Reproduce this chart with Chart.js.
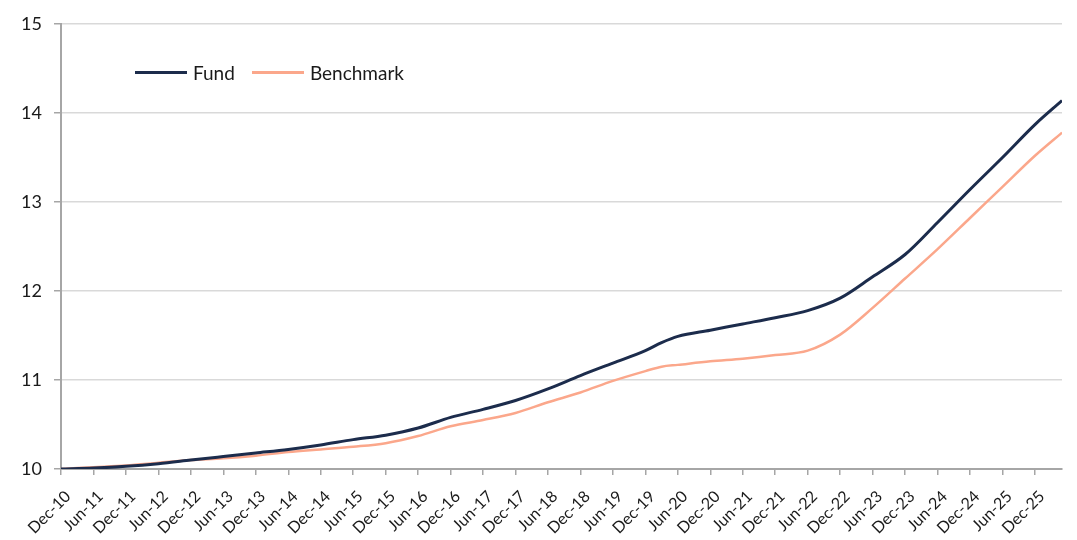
<!DOCTYPE html>
<html>
<head>
<meta charset="utf-8">
<script src="https://cdn.jsdelivr.net/npm/chart.js@4"></script>
<style>
  html, body { margin:0; padding:0; background:#fff; }
  #wrap { position:relative; width:1077px; height:540px; }
  #legend { position:absolute; left:135px; top:61px; display:flex; align-items:center;
            font-family:Lato, "Open Sans", sans-serif; font-size:19px; color:#1a1a1a; }
  #legend .item { display:flex; align-items:center; margin-right:17px; }
  #legend .swatch { width:52px; height:3px; margin-right:6px; }
</style>
</head>
<body>
<div id="wrap">
  <canvas id="chart" width="1077" height="540"></canvas>
  <div id="legend"></div>
</div>
<script>
// months since Dec-10
const months = [0,6,12,18,24,30,36,42,48,54,60,66,72,78,84,90,96,102,108,111,114,120,126,132,138,144,150,156,162,168,174,180,185];
const fund = [10.00,10.01,10.03,10.06,10.10,10.14,10.18,10.22,10.27,10.33,10.38,10.46,10.58,10.67,10.77,10.90,11.05,11.19,11.33,11.42,11.49,11.56,11.63,11.70,11.78,11.92,12.16,12.41,12.77,13.14,13.50,13.87,14.14];
const benchmark = [10.00,10.02,10.04,10.07,10.10,10.12,10.15,10.19,10.22,10.25,10.29,10.37,10.48,10.55,10.63,10.75,10.86,10.99,11.10,11.15,11.17,11.21,11.24,11.28,11.33,11.51,11.81,12.14,12.47,12.82,13.17,13.52,13.78];
const tickLabels = ["Dec-10","Jun-11","Dec-11","Jun-12","Dec-12","Jun-13","Dec-13","Jun-14","Dec-14","Jun-15","Dec-15",
  "Jun-16","Dec-16","Jun-17","Dec-17","Jun-18","Dec-18","Jun-19","Dec-19","Jun-20","Dec-20",
  "Jun-21","Dec-21","Jun-22","Dec-22","Jun-23","Dec-23","Jun-24","Dec-24","Jun-25","Dec-25"];

const FONT = 'Lato, "Open Sans", sans-serif';
const AXIS = '#a6a6a6';

const series = [
  { label:'Fund', values:fund, color:'#1c2c4c', width:3 },
  { label:'Benchmark', values:benchmark, color:'#fba78b', width:2.5 }
];

new Chart(document.getElementById('chart'), {
  type:'line',
  data:{
    datasets: series.map(s => ({
      label:s.label,
      data:months.map((m,i) => ({ x:m, y:s.values[i] })),
      borderColor:s.color,
      borderWidth:s.width,
      pointRadius:0,
      fill:false,
      cubicInterpolationMode:'monotone'
    }))
  },
  options:{
    responsive:false,
    animation:false,
    layout:{ padding:{ top:24, right:15, left:0, bottom:0 } },
    plugins:{ legend:{ display:false }, tooltip:{ enabled:false } },
    scales:{
      x:{
        type:'linear',
        min:0, max:185,
        afterFit: s => { s.height = 71; },
        grid:{ drawOnChartArea:false, color:AXIS, tickLength:6, lineWidth:1.5 },
        border:{ color:AXIS, width:2 },
        ticks:{
          stepSize:6, includeBounds:false, autoSkip:false,
          minRotation:45, maxRotation:45, padding:12, labelOffset:7,
          color:'#1a1a1a', font:{ family:FONT, size:16 },
          callback: v => tickLabels[v/6]
        }
      },
      y:{
        min:10, max:15,
        afterFit: s => { s.width = 61; },
        grid:{ color:'#d9d9d9', lineWidth:1.5, tickColor:AXIS, tickLength:7 },
        border:{ color:AXIS, width:2 },
        ticks:{ stepSize:1, padding:12, color:'#1a1a1a', font:{ family:FONT, size:18 } }
      }
    }
  }
});

// legend drawn inside the plot area, like the original
const legend = document.getElementById('legend');
series.forEach(s => {
  const item = document.createElement('div');
  item.className = 'item';
  item.innerHTML = `<span class="swatch" style="background:${s.color}"></span><span>${s.label}</span>`;
  legend.appendChild(item);
});
</script>
</body>
</html>
